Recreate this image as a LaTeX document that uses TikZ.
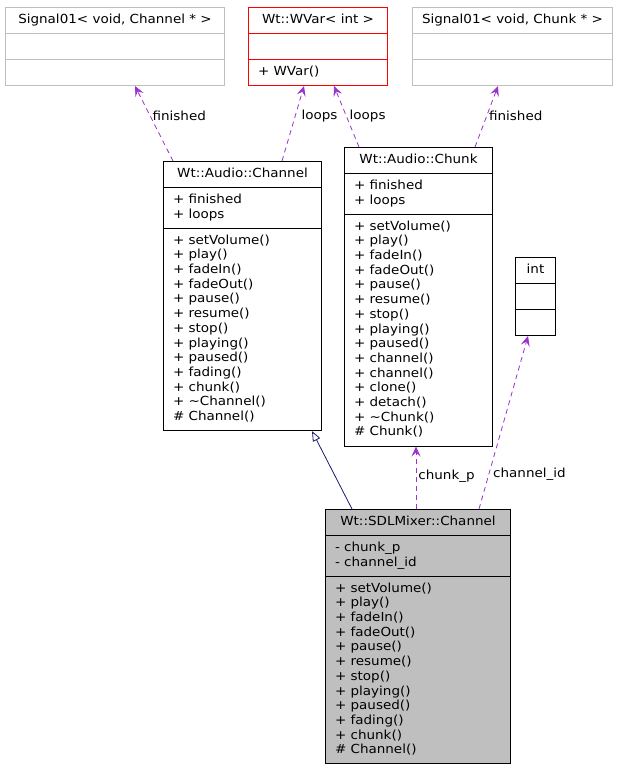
\documentclass[tikz,border=0pt]{standalone}
\usepackage{fontspec}
\newfontfamily\umlfamily{DejaVu Sans}[FakeStretch=1.08]
\newcommand\umlfont{\umlfamily\fontsize{12.5}{14.7}\selectfont}
\usetikzlibrary{shapes.multipart}
\usetikzlibrary{arrows.meta}
\usetikzlibrary{calc}
\definecolor{edgepurple}{HTML}{9A32CD}
\definecolor{inhblue}{HTML}{191970}
\definecolor{extgray}{HTML}{BFBFBF}

\begin{document}
\begin{tikzpicture}[ x = 1pt, y = -1pt
                   , font = \umlfont
                   , line width = 1pt
                   ]

  \useasboundingbox (0,0) rectangle (621,765);

  %%
  %% Classes
  %%
  \tikzset{ cls/.style={ rectangle split
                       , rectangle split parts = 3
                       , rectangle split part align = {center, left, left}
                       , rectangle split empty part height = 14.7pt
                       , rectangle split empty part depth = 0pt
                       , draw = black
                       , inner xsep = 9.5pt
                       , inner ysep = 5.15pt
                       , align = left
                       , anchor = north west }
          , ext/.style={draw=extgray}
          , tmpl/.style={draw=red}
          , cur/.style={fill=extgray}
          }

  \node (sigchan) [cls, ext, minimum width=219pt] at (5,7)
        {\strut Signal01< void, Channel * >};
  \node (wvar) [cls, tmpl, minimum width=139pt] at (248,7)
        {\strut Wt::WVar< int >
         \nodepart{three}\strut + WVar()};
  \node (sigchunk) [cls, ext, minimum width=178pt] at (412,7)
        {\strut Signal01< void, Chunk * >};

  \node (achan) [cls, minimum width=158pt] at (163,161)
        {\strut Wt::Audio::Channel
         \nodepart{two}\strut + finished\\\strut + loops
         \nodepart{three}\strut + setVolume()\\\strut + play()\\\strut + fadeIn()\\
         \strut + fadeOut()\\\strut + pause()\\\strut + resume()\\\strut + stop()\\
         \strut + playing()\\\strut + paused()\\\strut + fading()\\\strut + chunk()\\
         \strut + \textasciitilde Channel()\\\strut \# Channel()};

  \node (achunk) [cls, minimum width=148pt] at (344,147)
        {\strut Wt::Audio::Chunk
         \nodepart{two}\strut + finished\\\strut + loops
         \nodepart{three}\strut + setVolume()\\\strut + play()\\\strut + fadeIn()\\
         \strut + fadeOut()\\\strut + pause()\\\strut + resume()\\\strut + stop()\\
         \strut + playing()\\\strut + paused()\\\strut + channel()\\\strut + channel()\\
         \strut + clone()\\\strut + detach()\\\strut + \textasciitilde Chunk()\\
         \strut \# Chunk()};

  \node (intbox) [cls, minimum width=40pt] at (515,257) {\strut int};

  \node (sdlchan) [cls, cur, minimum width=185pt] at (325,509)
        {\strut Wt::SDLMixer::Channel
         \nodepart{two}\strut - chunk\_p\\\strut - channel\_id
         \nodepart{three}\strut + setVolume()\\\strut + play()\\\strut + fadeIn()\\
         \strut + fadeOut()\\\strut + pause()\\\strut + resume()\\\strut + stop()\\
         \strut + playing()\\\strut + paused()\\\strut + fading()\\\strut + chunk()\\
         \strut \# Channel()};

  \tikzset{ dep/.style={ edgepurple, line width=0.8pt, dashed
                       , dash pattern=on 5pt off 4pt
                       , -{Stealth[length=10pt, width=9pt, inset=4pt]} }
          , inh/.style={ inhblue, line width=0.8pt
                       , -{Triangle[open, length=10pt, width=8pt, fill=white]} }
          , lbl/.style={ text=black, anchor=west, inner sep=2pt }
          }
  %%
  %% Usage and inheritance
  %%
  % Members of the audio channel.
  \draw[dep] ([xshift=10pt]achan.north west) --
             node[lbl, pos=0.6] {finished}
             ([xshift=130pt]sigchan.south west);
  \draw[dep] ([xshift=119pt]achan.north west) --
             node[lbl, pos=0.6, xshift=4pt] {loops}
             ([xshift=56pt]wvar.south west);
  % Members of the chunk.
  \draw[dep] ([xshift=15pt]achunk.north west) --
             node[lbl, pos=0.51, xshift=1pt] {loops}
             ([xshift=86pt]wvar.south west);
  \draw[dep] ([xshift=131pt]achunk.north west) --
             node[lbl, pos=0.51] {finished}
             ([xshift=86pt]sigchunk.south west);
  % SDL mixer channel.
  \draw[inh] ([xshift=27pt]sdlchan.north west) --
             ([xshift=149pt]achan.south west);
  \draw[dep] ([xshift=91pt]sdlchan.north west) --
             node[lbl, pos=0.53] {chunk\_p}
             ([xshift=72pt]achunk.south west);
  \draw[dep] ([xshift=154pt]sdlchan.north west) --
             node[lbl, pos=0.2, xshift=2pt] {channel\_id}
             ([xshift=13pt]intbox.south west);
\end{tikzpicture}
\end{document}
